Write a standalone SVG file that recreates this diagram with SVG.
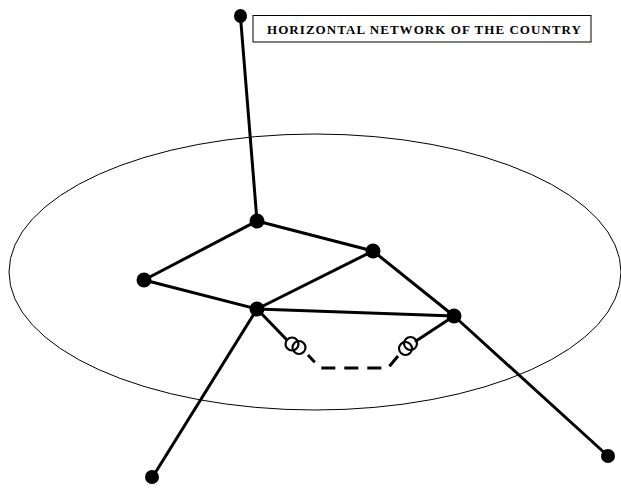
<svg xmlns="http://www.w3.org/2000/svg" width="621" height="493" viewBox="0 0 621 493">
<style>
.e{stroke:#000;stroke-width:3;fill:none;stroke-linecap:round}
.n{fill:#000}
.c{fill:none;stroke:#000;stroke-width:2.2}
.lbl{font-family:"Liberation Serif","Times New Roman",serif;font-weight:bold;font-size:13px;fill:#000}
</style>
<rect width="621" height="493" fill="#fff"/>
<ellipse id="plane" cx="315" cy="272" rx="306" ry="138" fill="none" stroke="#000" stroke-width="1"/>
<g id="connectors">
<line class="e" x1="240.5" y1="17" x2="257" y2="221"/>
<line class="e" x1="257" y1="221" x2="144" y2="280"/>
<line class="e" x1="257" y1="221" x2="373" y2="251"/>
<line class="e" x1="144" y1="280" x2="257" y2="309"/>
<line class="e" x1="257" y1="309" x2="373" y2="251"/>
<line class="e" x1="257" y1="309" x2="454" y2="316"/>
<line class="e" x1="373" y1="251" x2="454" y2="316"/>
<line class="e" x1="257" y1="309" x2="152" y2="478"/>
<line class="e" x1="454" y1="316" x2="608" y2="456"/>
<line class="e" x1="257" y1="309" x2="286" y2="339"/>
<line class="e" x1="454" y1="316" x2="416" y2="341"/>
<path d="M308,355 L320,368 L388,368 L398,356" fill="none" stroke="#000" stroke-width="3" stroke-dasharray="10,9,14,9,14,9,14,9,14"/>
</g>
<g id="coil-left">
<circle class="c" cx="292" cy="344" r="6.5"/>
<circle class="c" cx="299" cy="347.5" r="6.5"/>
</g>
<g id="coil-right">
<circle class="c" cx="405.5" cy="348.5" r="6.5"/>
<circle class="c" cx="410.5" cy="343.5" r="6.5"/>
</g>
<g id="node-top"><ellipse class="n" cx="240.5" cy="16" rx="6.5" ry="7"/></g>
<g id="node-a"><circle class="n" cx="257" cy="221" r="7.5"/></g>
<g id="node-b"><circle class="n" cx="373" cy="251" r="7.5"/></g>
<g id="node-c"><circle class="n" cx="144" cy="280" r="7.5"/></g>
<g id="node-d"><circle class="n" cx="257" cy="309" r="7.5"/></g>
<g id="node-e"><circle class="n" cx="454" cy="316" r="7.5"/></g>
<g id="node-bl"><circle class="n" cx="152" cy="477" r="7"/></g>
<g id="node-br"><circle class="n" cx="608" cy="456" r="7"/></g>
<g id="label">
<rect x="253" y="15.5" width="338" height="26.5" fill="#fff" stroke="#000" stroke-width="1"/>
<text class="lbl" x="267" y="34" textLength="314" lengthAdjust="spacing">HORIZONTAL NETWORK OF THE COUNTRY</text>
</g>
</svg>
